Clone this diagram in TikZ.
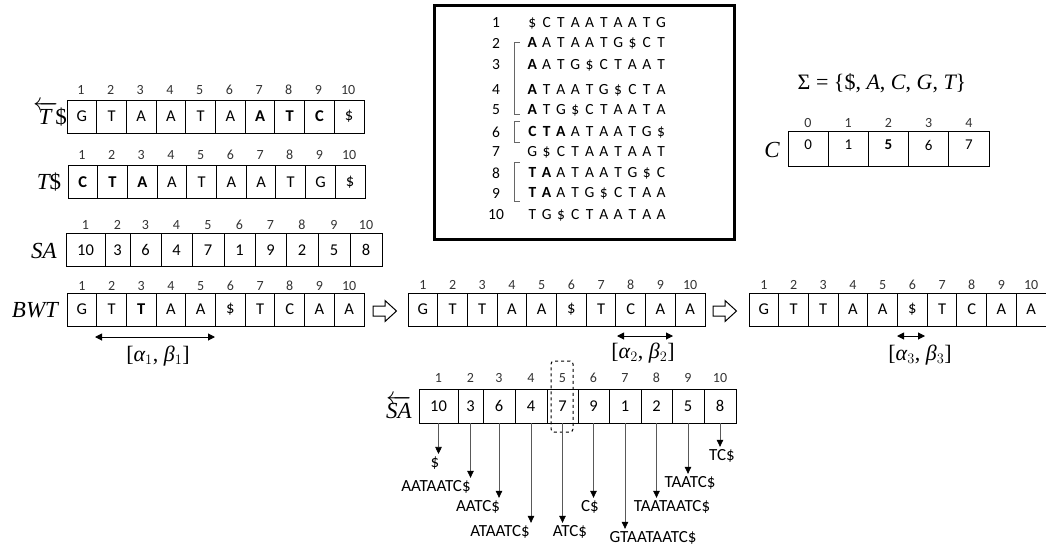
\documentclass[tikz,border=0pt]{standalone}
\usepackage[no-math]{fontspec}
\setmainfont{Carlito}
\newfontfamily\lser{Liberation Serif}
\usetikzlibrary{arrows.meta}
\newcommand\fs[1]{\fontsize{#1}{#1}\selectfont}
\newcommand\B[1]{\textbf{#1}}
\newcommand\mi[1]{{\lser\itshape #1}}
\def\spaux#1{\ifx\relax#1\else\makebox[14.3pt][c]{#1}\expandafter\spaux\fi}
\newcommand\spl[1]{\spaux#1\relax}
\begin{document}
\begin{tikzpicture}[x=1pt,y=-1pt,
  cell/.style={draw,line width=0.9pt,inner sep=0pt,minimum height=33pt,font=\fs{16.5}},
  idx/.style={inner sep=0pt,font=\fs{14},text=black!80},
  lab/.style={inner sep=0pt,font=\fs{23}\lser},
  mlab/.style={inner sep=0pt,font=\fs{22}\lser},
  rowtxt/.style={anchor=west,inner sep=0pt,font=\fs{15.5}},
  rownum/.style={inner sep=0pt,font=\fs{15.5}},
  suf/.style={inner xsep=0pt,inner ysep=2.5pt,font=\fs{17}},
  dn/.style={draw=black!65,line width=0.7pt,-{Triangle[length=7pt,width=6.5pt,color=black]}},
  dbl/.style={line width=1pt,{Triangle[length=7pt,width=7pt]}-{Triangle[length=7pt,width=7pt]}},
  brk/.style={draw=black!60,line width=0.8pt},
  hol/.style={draw,line width=1pt,fill=white}]
\useasboundingbox (0,0) rectangle (1046,552);

% reversed T$
\node[lab] (Trev) at (50,114) {$\overleftarrow{\hbox{\mi{T}\kern1pt}}$\kern-2.5pt\$};
\foreach \t [count=\i] in {G,T,A,A,T,A,\B{A},\B{T},\B{C},\$}{
  \node[cell,minimum width=29.7pt] (tr\i) at ({67+29.7*(\i-0.5)},116.5) {\t};
  \node[idx] (tri\i) at ({66+29.7*(\i-0.5)},90) {\i};
}
% T$
\node[lab] (T) at (49,182) {\mi{T}\$};
\foreach \t [count=\i] in {\B{C},\B{T},\B{A},A,T,A,A,T,G,\$}{
  \node[cell,minimum width=29.7pt] (tt\i) at ({68+29.7*(\i-0.5)},182) {\t};
  \node[idx] (tti\i) at ({67+29.7*(\i-0.5)},155) {\i};
}
% SA
\node[lab] (SA) at (44,251) {\mi{SA}};
\foreach \a/\b/\t [count=\i] in {66/105/10,105/130/3,130/161/6,161/192/4,192/224/7,224/255/1,255/286/9,286/318/2,318/350/5,350/382/8}{
  \pgfmathsetmacro\w{\b-\a}
  \node[cell,minimum width=\w pt] (sa\i) at ({(\a+\b)/2},250) {\t};
  \node[idx] (sai\i) at ({(\a+\b)/2},225) {\i};
}
% BWT rows
\node[lab] (BWT) at (35,310) {\mi{BWT}};
\foreach \t [count=\i] in {G,T,\B{T},A,A,\$,T,C,A,A}{
  \node[cell,minimum width=29.7pt] (ba\i) at ({67+29.7*(\i-0.5)},309.5) {\t};
  \node[idx] (bai\i) at ({67+29.7*(\i-0.5)},286) {\i};
}
\foreach \t [count=\i] in {G,T,T,A,A,\$,T,C,A,A}{
  \node[cell,minimum width=29.7pt] (bb\i) at ({408+29.7*(\i-0.5)},309.5) {\t};
  \node[idx] (bbi\i) at ({408+29.7*(\i-0.5)},285) {\i};
  \node[cell,minimum width=29.7pt] (bc\i) at ({749+29.7*(\i-0.5)},309.5) {\t};
  \node[idx] (bci\i) at ({749+29.7*(\i-0.5)},285) {\i};
}
% hollow arrows
\draw[hol] (373,306) -- (385,306) -- (385,300.5) -- (396.5,311) -- (385,321.5) -- (385,316) -- (373,316) -- cycle;
\draw[hol] (713,306) -- (725,306) -- (725,300.5) -- (736.5,311) -- (725,321.5) -- (725,316) -- (713,316) -- cycle;

% intervals
\coordinate (a1l) at (95,337);  \coordinate (a1r) at (215,337);
\coordinate (a2l) at (617,336); \coordinate (a2r) at (673,336);
\coordinate (a3l) at (897,336); \coordinate (a3r) at (925,336);
\draw[dbl] (a1l) -- (a1r);
\draw[dbl] (a2l) -- (a2r);
\draw[dbl] (a3l) -- (a3r);
\node[mlab] (i1) at (158,356) {[\mi{α}$_1$, \mi{β}$_1$]};
\node[mlab] (i2) at (643,353) {[\mi{α}$_2$, \mi{β}$_2$]};
\node[mlab] (i3) at (920,355) {[\mi{α}$_3$, \mi{β}$_3$]};

% center box
\node[draw,line width=2.3pt,minimum width=300pt,minimum height=234pt,inner sep=0pt] (box) at (584.5,122.5) {};
\foreach \n/\y in {1/23,2/43,3/65,4/90,5/110,6/132,7/152,8/173,9/193,10/215}{
  \node[rownum] (rn\n) at (496,\y) {\n};
}
\node[rowtxt] (rs1) at (525,23) {\spl{\$CTAATAATG}};
\node[rowtxt] (rs2) at (525,43) {\spl{{\B A}ATAATG\$CT}};
\node[rowtxt] (rs3) at (525,65) {\spl{{\B A}ATG\$CTAAT}};
\node[rowtxt] (rs4) at (525,90) {\spl{{\B A}TAATG\$CTA}};
\node[rowtxt] (rs5) at (525,110) {\spl{{\B A}TG\$CTAATA}};
\node[rowtxt] (rs6) at (525,132) {\spl{{\B C}{\B T}{\B A}ATAATG\$}};
\node[rowtxt] (rs7) at (525,152) {\spl{G\$CTAATAAT}};
\node[rowtxt] (rs8) at (525,173) {\spl{{\B T}{\B A}ATAATG\$C}};
\node[rowtxt] (rs9) at (525,193) {\spl{{\B T}{\B A}ATG\$CTAA}};
\node[rowtxt] (rs10) at (525,215) {\spl{TG\$CTAATAA}};
\draw[brk] (519.5,42) -- (514,42) -- (514,114) -- (519.5,114);
\draw[brk] (519.5,121) -- (514,121) -- (514,142) -- (519.5,142);
\draw[brk] (519.5,162) -- (514,162) -- (514,201) -- (519.5,201);

% Sigma and C
\node[mlab] (sig) at (882,83) {Σ = \{\$, \mi{A}, \mi{C}, \mi{G}, \mi{T}\}};
\node[lab] (Clab) at (772,150) {\mi{C}};
\foreach \t [count=\i] in {0,1,\B{5},6,7}{
  \node[cell,minimum width=40.2pt,minimum height=35pt] (c\i) at ({788+40.2*(\i-0.5)},148.5) {};
  \node[inner sep=0pt,font=\fs{15}] (cv\i) at ({788+40.2*(\i-0.5)},145) {\t};
}
\foreach \t [count=\i from 0] in {0,1,2,3,4}{
  \node[idx] (ci\i) at ({808+40.2*\i},123) {\t};
}

% reversed SA
\node[lab] (SAr) at (399,407) {$\overleftarrow{\hbox{\mi{SA}}}$};
\foreach \a/\b/\t [count=\i] in {419/458/10,458/483/3,483/515/6,515/547/4,547/578/7,578/609/9,609/641/1,641/672/2,672/704/5,704/736/8}{
  \pgfmathsetmacro\w{\b-\a}
  \node[cell,minimum width=\w pt,minimum height=34pt] (sb\i) at ({(\a+\b)/2},406) {\t};
  \node[idx] (sbi\i) at ({(\a+\b)/2},378) {\i};
}
\node[draw,dashed,line width=1pt,rounded corners=3pt,minimum width=22pt,minimum height=71pt,inner sep=0pt] (dash) at (562,396.5) {};

% suffix labels
\node[suf] (l1) at (435,463) {\$};
\node[suf] (l2) at (436,487) {AATAATC\$};
\node[suf] (l3) at (478,507) {AATC\$};
\node[suf] (l4) at (500,532) {ATAATC\$};
\node[suf] (l5) at (570,532) {ATC\$};
\node[suf] (l6) at (590,507) {C\$};
\node[suf] (l7) at (653,538) {GTAATAATC\$};
\node[suf] (l8) at (672,507) {TAATAATC\$};
\node[suf] (l9) at (690,483) {TAATC\$};
\node[suf] (l10) at (722,456) {TC\$};
\foreach \i in {1,...,10}{
  \draw[dn] (sb\i.south) -- (sb\i.south |- l\i.north);
}
\end{tikzpicture}
\end{document}
